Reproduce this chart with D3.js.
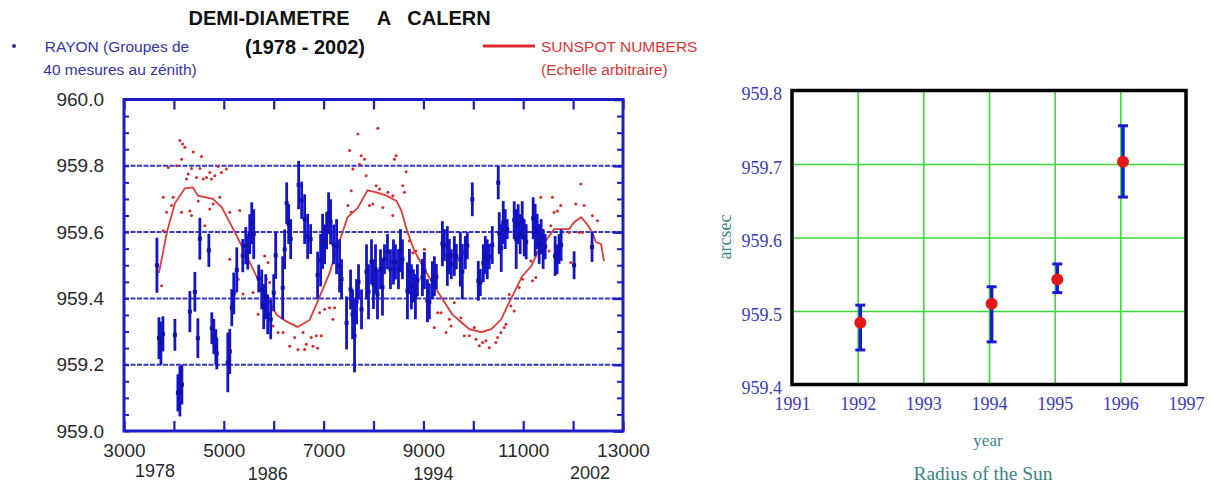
<!DOCTYPE html>
<html><head><meta charset="utf-8">
<script src="https://cdn.jsdelivr.net/npm/d3@7"></script>
<style>
body{margin:0;background:#fff;}
svg{display:block;font-family:"Liberation Sans",Arial,sans-serif;}
</style></head>
<body><svg id="c" width="1212" height="484"></svg>
<script>
// ---------- LEFT PANEL DATA ----------
const xTickLabelsL = [3000,5000,7000,9000,11000,13000];
const yTickLabelsL = [959.0,959.2,959.4,959.6,959.8,960.0];
const gridValsL = [959.2,959.4,959.6,959.8];
const yearLabels = ["1978","1986","1994","2002"];
const yearLabelAt = [3620,5880,9200,12340];

// Radius measurements (groups of 40 zenith measures): day, value, half error
const barX = [3660,3700,3740,3780,4020,4080,4120,4160,4320,4420,4480,4520,4700,4760,4800,4840,4860,5080,5120,5160,5200,5260,5380,5440,5480,5520,5560,5600,5700,5760,5800,5840,5880,5940,6000,6040,6180,6220,6260,6300,6340,6500,6560,6620,6680,6740,6880,6940,6980,7020,7060,7100,7140,7200,7260,7320,7360,7460,7540,7580,7620,7660,7700,7760,7860,7900,7960,8000,8040,8080,8140,8180,8220,8280,8340,8400,8440,8500,
8540,8580,8680,8720,8760,8800,8840,8880,8980,9020,9080,9120,9180,9220,9260,9380,9420,9480,9520,9560,9620,9660,9740,9780,9840,9880,9980,10100,10140,10200,10240,10280,10320,10380,10500,10520,10560,10600,10640,10680,10820,10860,10900,10940,10980,11020,11060,11200,11240,11280,11320,11360,11400,11440,11640,11680,11720,11760,12020,12380];
const barY = [959.50,959.28,959.265,959.293,959.29,959.115,959.12,959.14,959.36,959.42,959.28,959.58,959.545,959.31,959.285,959.254,959.234,959.207,959.24,959.372,959.415,959.486,959.529,959.559,959.54,959.594,959.627,959.594,959.46,959.427,959.375,959.405,959.352,959.337,959.417,959.53,959.432,959.548,959.687,959.624,959.579,959.742,959.696,959.639,959.587,959.579,959.47,959.515,959.572,959.563,959.604,959.657,959.631,959.563,959.556,959.498,959.458,959.326,959.427,959.352,959.287,959.39,959.45,959.367,959.48,959.42,959.51,959.443,959.488,959.412,959.488,959.434,959.518,959.541,959.488,959.51,959.51,959.488,
959.544,959.518,959.423,959.481,959.435,959.438,959.405,959.455,959.463,959.484,959.393,959.39,959.455,959.467,959.466,959.565,959.561,959.528,959.526,959.503,959.528,959.526,959.518,959.481,959.538,959.559,959.699,959.453,959.448,959.506,959.531,959.518,959.526,959.561,959.749,959.597,959.552,959.629,959.609,959.609,959.636,959.579,959.624,959.594,959.636,959.583,959.571,959.642,959.606,959.602,959.564,959.586,959.549,959.556,959.528,959.518,959.549,959.561,959.50,959.555];
const barErr = [0.083,0.063,0.065,0.053,0.048,0.056,0.076,0.06,0.062,0.06,0.06,0.063,0.05,0.048,0.053,0.053,0.048,0.09,0.068,0.056,0.063,0.068,0.05,0.056,0.053,0.06,0.063,0.075,0.042,0.06,0.068,0.068,0.06,0.06,0.056,0.071,0.095,0.06,0.063,0.06,0.06,0.073,0.056,0.075,0.068,0.045,0.071,0.079,0.083,0.06,0.056,0.063,0.068,0.06,0.083,0.08,0.06,0.08,0.06,0.075,0.11,0.068,0.053,0.06,0.083,0.083,0.068,0.075,0.075,0.075,0.06,0.086,0.045,0.053,0.06,0.068,0.053,0.06,
0.065,0.06,0.086,0.068,0.068,0.05,0.068,0.048,0.056,0.056,0.065,0.053,0.057,0.06,0.038,0.068,0.048,0.09,0.053,0.045,0.06,0.038,0.082,0.083,0.05,0.041,0.051,0.06,0.041,0.057,0.057,0.06,0.038,0.057,0.05,0.063,0.072,0.065,0.06,0.03,0.057,0.09,0.06,0.06,0.057,0.056,0.053,0.063,0.079,0.053,0.06,0.053,0.06,0.038,0.06,0.045,0.045,0.048,0.042,0.045];

// Sunspot numbers (arbitrary scale): monthly dots
const spotX = [4120,4173,4220,4387,4553,4153,4053,4353,4520,4587,4653,4720,4253,4287,4453,4887,4953,5053,4820,4753,3887,3787,3987,3853,3787,3753,3953,4320,4487,4720,4353,4153,4620,4787,4920,5120,5320,5120,5287,5387,5587,5687,5787,5820,5887,5853,5920,5987,6087,6187,6320,6420,6487,6587,6620,6653,6753,6853,6787,6880,6953,7020,7120,7220,6920,7187,7487,7553,7520,7587,7687,7720,7753,7820,7853,7920,7987,8053,8120,8187,8287,8387,8453,8087,7553,
8420,8653,8587,8620,8387,8720,8787,8853,9020,8870,9120,9220,9287,9353,9453,9520,9553,9620,9753,9820,9920,10020,10053,10120,10187,10253,10320,10453,10487,10553,10620,10653,10753,10820,10720,10920,10987,11187,11253,11153,11270,11320,11353,11520,11553,11587,11620,11753,11687,11953,12053,12153,12220,12387,12487,12120,12187,11753,11920];
const spotY = [959.876,959.866,959.856,959.842,959.828,959.82,959.80,959.792,959.792,959.76,959.765,959.78,959.76,959.775,959.765,959.798,959.78,959.79,959.77,959.76,959.795,959.705,959.705,959.66,959.604,959.438,959.68,959.664,959.694,959.67,959.65,959.66,959.619,959.685,959.705,959.66,959.665,959.518,959.458,959.413,959.418,959.352,959.377,959.528,959.508,959.458,959.448,959.317,959.297,959.297,959.256,959.282,959.246,959.297,959.246,959.262,959.282,959.287,959.256,959.25,959.287,959.367,959.372,959.372,959.357,959.337,959.68,959.725,959.846,959.79,959.896,959.805,959.83,959.82,959.77,959.68,959.685,959.74,959.73,959.674,959.72,959.71,959.83,959.913,959.66,
959.82,959.782,959.74,959.72,959.65,959.574,959.538,959.543,959.548,959.458,959.443,959.312,959.357,959.357,959.297,959.337,959.317,959.387,959.342,959.287,959.287,959.312,959.277,959.257,959.267,959.272,959.251,959.267,959.282,959.297,959.312,959.322,959.377,959.362,959.412,959.433,959.458,959.453,959.463,959.513,959.538,959.599,959.705,959.543,959.619,959.705,959.66,959.68,959.664,959.508,959.685,959.745,959.68,959.649,959.634,959.599,959.599,959.584,959.599];

// Smoothed sunspot curve
const smoothX = [3700,3860,4020,4220,4380,4480,4780,4960,5200,5400,5660,5860,6060,6260,6480,6720,6880,7120,7280,7480,7680,7880,8060,8260,8460,8560,8680,8820,9020,9220,9420,9580,9760,9920,10160,10360,10560,10680,10820,10980,11160,11320,11480,11620,11820,11920,12020,12160,12280,12380,12460,12560,12620];
const smoothY = [959.477,959.60,959.687,959.732,959.735,959.71,959.70,959.675,959.606,959.546,959.465,959.405,959.35,959.33,959.314,959.335,959.39,959.477,959.555,959.645,959.672,959.726,959.72,959.71,959.694,959.664,959.60,959.543,959.488,959.437,959.389,959.352,959.328,959.307,959.298,959.307,959.337,959.376,959.418,959.467,959.497,959.549,959.579,959.609,959.609,959.609,959.63,959.645,959.624,959.60,959.57,959.564,959.512];

// ---------- RIGHT PANEL DATA ----------
const yearsR = [1992.04,1994.04,1995.04,1996.04];
const radiusR = [959.484,959.51,959.543,959.703];
const radiusLo = [959.447,959.458,959.525,959.655];
const radiusHi = [959.508,959.533,959.564,959.752];
const xTicksR = [1991,1992,1993,1994,1995,1996,1997];
const yTicksR = [959.4,959.5,959.6,959.7,959.8];

const svg = d3.select("#c");

// ================= LEFT PANEL =================
const L = {l:124, r:623, t:99.5, b:431};
const xL = d3.scaleLinear().domain([3000,13000]).range([L.l,L.r]);
const yL = d3.scaleLinear().domain([959,960]).range([L.b,L.t]);
const BLUE = "#1c1cc8";

const gL = svg.append("g");
gL.selectAll("line.grid").data(gridValsL).join("line")
  .attr("x1",L.l).attr("x2",L.r).attr("y1",d=>yL(d)).attr("y2",d=>yL(d))
  .attr("stroke","#3838c0").attr("stroke-width",2).attr("stroke-dasharray","5,1.5");

function styleTicks(g,w){ g.select(".domain").remove(); g.selectAll(".tick line").attr("stroke",BLUE).attr("stroke-width",w); g.selectAll("text").remove(); }
gL.append("g").attr("transform",`translate(0,${L.b})`).call(d3.axisBottom(xL).ticks(10).tickSize(-10).tickFormat("")).call(g=>styleTicks(g,2.2));
gL.append("g").attr("transform",`translate(0,${L.t})`).call(d3.axisTop(xL).ticks(10).tickSize(-10).tickFormat("")).call(g=>styleTicks(g,2.2));
gL.append("g").attr("transform",`translate(${L.l},0)`).call(d3.axisLeft(yL).ticks(20).tickSize(-5).tickFormat("")).call(g=>styleTicks(g,2));
gL.append("g").attr("transform",`translate(${L.r},0)`).call(d3.axisRight(yL).ticks(20).tickSize(-6).tickFormat("")).call(g=>styleTicks(g,2));
gL.append("g").attr("transform",`translate(${L.r},0)`).call(d3.axisRight(yL).tickValues(yTickLabelsL).tickSize(-10).tickFormat("")).call(g=>styleTicks(g,2.5));

gL.selectAll("circle.spot").data(spotX).join("circle")
  .attr("cx",(d)=>xL(d)).attr("cy",(d,i)=>yL(spotY[i])).attr("r",1.5).attr("fill","#d42a2a");
const line = d3.line().x((d)=>xL(d)).y((d,i)=>yL(smoothY[i]));
gL.append("path").attr("d",line(smoothX)).attr("fill","none").attr("stroke","#e03a3a").attr("stroke-width",1.8);

gL.selectAll("line.bar").data(barX).join("line")
  .attr("x1",d=>xL(d)).attr("x2",d=>xL(d))
  .attr("y1",(d,i)=>yL(barY[i]-barErr[i])).attr("y2",(d,i)=>yL(barY[i]+barErr[i]))
  .attr("stroke","#1414c8").attr("stroke-width",2.8);
gL.selectAll("rect.bc").data(barX).join("rect")
  .attr("x",d=>xL(d)-2).attr("y",(d,i)=>yL(barY[i])-2).attr("width",4).attr("height",4).attr("fill","#1010b0");

gL.append("rect").attr("x",L.l).attr("y",L.t).attr("width",L.r-L.l).attr("height",L.b-L.t)
  .attr("fill","none").attr("stroke",BLUE).attr("stroke-width",3);

const axLblX = gL.append("g").attr("transform",`translate(0,${L.b})`)
  .call(d3.axisBottom(xL).tickValues(xTickLabelsL).tickSize(0).tickPadding(13).tickFormat(d3.format("d")));
axLblX.select(".domain").remove();
axLblX.selectAll("text").attr("font-size",19).attr("fill","#2a2a2a").attr("font-family","Liberation Sans, Arial, sans-serif");
const axLblY = gL.append("g").attr("transform",`translate(${L.l},0)`)
  .call(d3.axisLeft(yL).tickValues(yTickLabelsL).tickSize(0).tickPadding(20).tickFormat(d3.format(".1f")));
axLblY.select(".domain").remove();
axLblY.selectAll("text").attr("font-size",19).attr("fill","#2a2a2a").attr("font-family","Liberation Sans, Arial, sans-serif");

// year labels (staggered as in original)
const yearBase = [477,480,480,479];
gL.selectAll("text.yr").data(yearLabels).join("text")
  .attr("x",(d,i)=>xL(yearLabelAt[i])).attr("y",(d,i)=>yearBase[i])
  .attr("text-anchor","middle").attr("font-size",18).attr("fill","#2a2a2a").text(d=>d);

// titles
[["DEMI-DIAMETRE",269],["A",384],["CALERN",449]].forEach(([t,x])=>{
  svg.append("text").attr("x",x).attr("y",25).attr("text-anchor","middle")
    .attr("font-size",20).attr("font-weight","bold").attr("fill","#111").text(t);
});
svg.append("text").attr("x",305).attr("y",54).attr("text-anchor","middle")
  .attr("font-size",20).attr("font-weight","bold").attr("fill","#111").text("(1978 - 2002)");

// legends
svg.append("circle").attr("cx",14).attr("cy",46).attr("r",2).attr("fill","#2a2ab0");
svg.append("text").attr("x",117).attr("y",52).attr("text-anchor","middle").attr("font-size",15.5).attr("fill","#3434a8").text("RAYON (Groupes de");
svg.append("text").attr("x",120).attr("y",75).attr("text-anchor","middle").attr("font-size",15.5).attr("fill","#3434a8").text("40 mesures au zénith)");
svg.append("line").attr("x1",483).attr("x2",535).attr("y1",46).attr("y2",46).attr("stroke","#dd2a2a").attr("stroke-width",3);
svg.append("text").attr("x",541).attr("y",52).attr("font-size",15.5).attr("fill","#d83636").text("SUNSPOT NUMBERS");
svg.append("text").attr("x",541).attr("y",75).attr("font-size",15.5).attr("fill","#d83636").text("(Echelle arbitraire)");

// ================= RIGHT PANEL =================
const R = {l:792, r:1186, t:90.5, b:384.5};
const xR = d3.scaleLinear().domain([1991,1997]).range([R.l,R.r]);
const yR = d3.scaleLinear().domain([959.4,959.8]).range([R.b,R.t]);
const gR = svg.append("g");
const serif = "Liberation Serif, Times New Roman, serif";
const GREEN = "#39d939";

gR.append("g").attr("transform",`translate(0,${R.b})`)
  .call(d3.axisBottom(xR).tickValues(xTicksR.slice(1,-1)).tickSize(-(R.b-R.t)).tickFormat(""))
  .call(g=>{g.select(".domain").remove(); g.selectAll(".tick line").attr("stroke",GREEN).attr("stroke-width",1.6);});
gR.append("g").attr("transform",`translate(${R.l},0)`)
  .call(d3.axisLeft(yR).tickValues(yTicksR.slice(1,-1)).tickSize(-(R.r-R.l)).tickFormat(""))
  .call(g=>{g.select(".domain").remove(); g.selectAll(".tick line").attr("stroke",GREEN).attr("stroke-width",1.6);});

gR.append("rect").attr("x",R.l).attr("y",R.t).attr("width",R.r-R.l).attr("height",R.b-R.t)
  .attr("fill","none").attr("stroke","#000").attr("stroke-width",3.5);

const EB = "#1818d8";
gR.selectAll("line.eb").data(yearsR).join("line")
  .attr("x1",d=>xR(d)).attr("x2",d=>xR(d)).attr("y1",(d,i)=>yR(radiusLo[i])).attr("y2",(d,i)=>yR(radiusHi[i]))
  .attr("stroke",EB).attr("stroke-width",3.5);
[radiusLo,radiusHi].forEach(arr=>{
  gR.selectAll(null).data(yearsR).join("line")
    .attr("x1",d=>xR(d)-5).attr("x2",d=>xR(d)+5).attr("y1",(d,i)=>yR(arr[i])).attr("y2",(d,i)=>yR(arr[i]))
    .attr("stroke",EB).attr("stroke-width",3);
});
gR.selectAll("circle.pt").data(yearsR).join("circle")
  .attr("cx",d=>xR(d)).attr("cy",(d,i)=>yR(radiusR[i])).attr("r",6).attr("fill","#e41818");

const axRX = gR.append("g").attr("transform",`translate(0,${R.b})`)
  .call(d3.axisBottom(xR).tickValues(xTicksR).tickSize(0).tickPadding(13).tickFormat(d3.format("d")));
axRX.select(".domain").remove();
axRX.selectAll("text").attr("font-size",18).attr("font-family",serif).attr("fill","#3a3ac0");
const axRY = gR.append("g").attr("transform",`translate(${R.l},0)`)
  .call(d3.axisLeft(yR).tickValues(yTicksR).tickSize(0).tickPadding(10).tickFormat(d3.format(".1f")));
axRY.select(".domain").remove();
axRY.selectAll("text").attr("font-size",18).attr("font-family",serif).attr("fill","#3a3ac0").attr("dy","0.5em");

svg.append("text").attr("x",988).attr("y",446).attr("text-anchor","middle").attr("font-family",serif)
  .attr("font-size",17).attr("fill","#3a8585").text("year");
svg.append("text").attr("x",983).attr("y",480).attr("text-anchor","middle").attr("font-family",serif)
  .attr("font-size",19.5).attr("fill","#3a8585").text("Radius of the Sun");
svg.append("text").attr("transform","translate(731,237) rotate(-90)").attr("text-anchor","middle").attr("font-family",serif)
  .attr("font-size",18).attr("fill","#3a8585").text("arcsec");
</script></body></html>
